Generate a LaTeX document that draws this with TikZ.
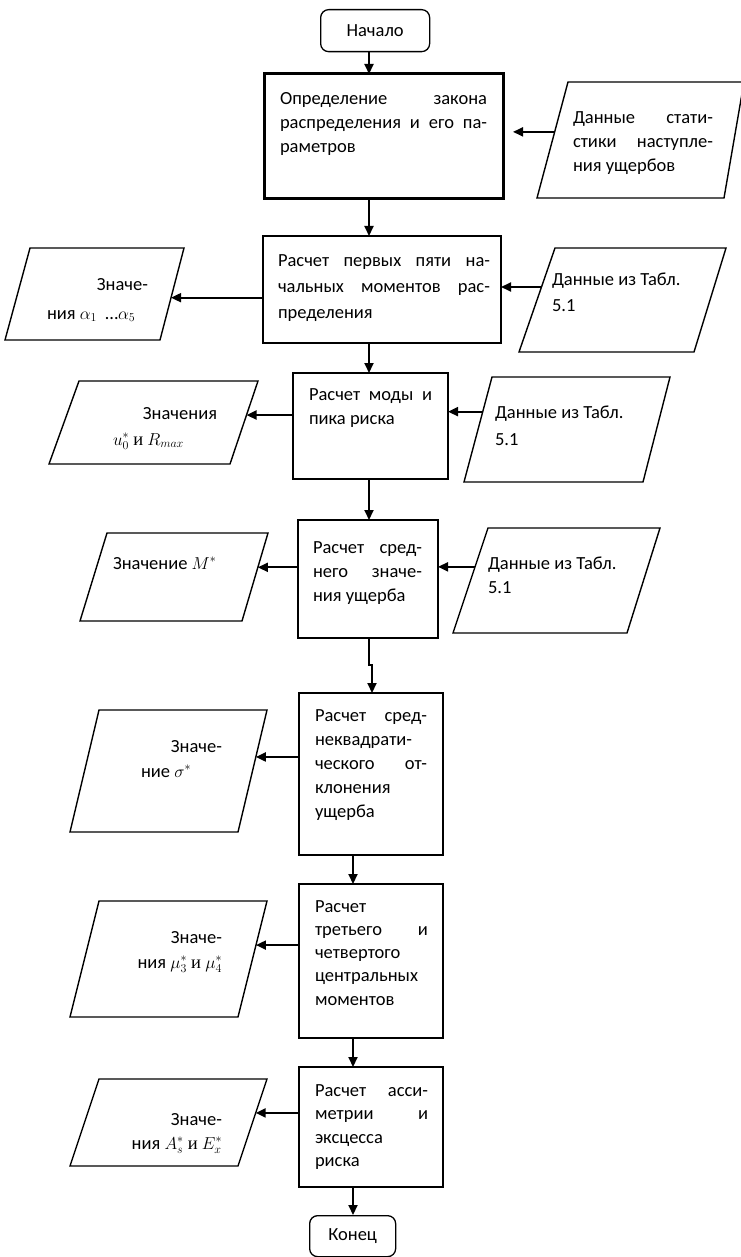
\documentclass[tikz,border=0pt]{standalone}
\usepackage{fontspec}
\setmainfont{Carlito}
\newfontfamily\serifru{Liberation Serif}
\usetikzlibrary{arrows.meta,calc}
\newcommand\jline[1]{\hbox to\hsize{#1}}
\newcommand\lline[1]{\hbox to\hsize{#1\hfill}}
\newcommand\rline[1]{\hbox to\hsize{\hfill#1}}
\newcommand\tb[2]{\vtop{\hsize=#1pt\relax #2}}
\newcommand\rusi{{\serifru и}}
% data block: name, bottom-left x, bottom y, top-left x, top y, top-right x, bottom-right x
\newcommand\para[7]{%
  \coordinate (#1bl) at (#2,#3);
  \coordinate (#1tl) at (#4,#5);
  \coordinate (#1tr) at (#6,#5);
  \coordinate (#1br) at (#7,#3);
  \draw[parline] (#1bl) -- (#1tl) -- (#1tr) -- (#1br) -- cycle;}
\begin{document}
\begin{tikzpicture}[x=1pt,y=-1pt,
  box/.style={draw, rectangle, line width=2pt, anchor=north west, inner sep=0pt, outer sep=0pt},
  term/.style={draw, rectangle, rounded corners=8pt, line width=1.3pt, inner sep=0pt, anchor=north west, font=\fontsize{18.5}{24}\selectfont},
  parline/.style={line width=1.4pt, line join=miter},
  txt/.style={inner sep=0pt, outer sep=0pt, anchor=base west, font=\fontsize{18.5}{24}\selectfont},
  arr/.style={line width=2pt, -{Triangle[length=10pt,width=9pt]}},
]
\useasboundingbox (0,0) rectangle (740,1257);
\fill[white] (0,0) rectangle (740,1257);

\coordinate (ax1) at (369,0);
\coordinate (ax2) at (372,0);
\coordinate (ax3) at (353,0);

% terminals
\node[term, minimum width=109pt, minimum height=42pt] (start) at (320,9) {Начало\hspace{22pt}};
\node[term, minimum width=86pt, minimum height=41pt] (end) at (309,1215) {Конец};

% process boxes
\node[box, line width=3pt, minimum width=239pt, minimum height=125pt] (b1) at (264,74) {};
\node[box, line width=2.5pt, minimum width=238pt, minimum height=107pt] (b2) at (263,236) {};
\node[box, line width=2.5pt, minimum width=155pt, minimum height=106pt] (b3) at (293,373) {};
\node[box, minimum width=140pt, minimum height=118pt] (b4) at (298,520) {};
\node[box, minimum width=144pt, minimum height=162pt] (b5) at (299,693) {};
\node[box, minimum width=144pt, minimum height=154pt] (b6) at (299,884) {};
\node[box, minimum width=144pt, minimum height=120pt] (b7) at (299,1067) {};

\node[txt] (t1) at (280,105) {\tb{207}{\jline{Определение\hfill закона}\jline{распределения\hfill и\hfill его\hfill па-}\lline{раметров}}};
\node[txt, font=\fontsize{18.5}{26}\selectfont] (t2) at (278,266) {\tb{212}{\jline{Расчет\hfill первых\hfill пяти\hfill на-}\jline{чальных\hfill моментов\hfill рас-}\lline{пределения}}};
\node[txt] (t3) at (309,400) {\tb{123}{\jline{Расчет\hfill моды\hfill и}\lline{пика риска}}};
\node[txt] (t4) at (313,553) {\tb{109}{\jline{Расчет\hfill сред-}\jline{него\hfill значе-}\lline{ния ущерба}}};
\node[txt] (t5) at (315,721) {\tb{112}{\jline{Расчет\hfill сред-}\lline{неквадрати-}\jline{ческого\hfill от-}\lline{клонения}\lline{ущерба}}};
\node[txt, font=\fontsize{18.5}{23.3}\selectfont] (t6) at (315,912) {\tb{113}{\lline{Расчет}\jline{третьего\hfill и}\lline{четвертого}\lline{центральных}\lline{моментов}}};
\node[txt, font=\fontsize{18.5}{23.5}\selectfont] (t7) at (315,1096) {\tb{113}{\jline{Расчет\hfill асси-}\jline{метрии\hfill и}\lline{эксцесса}\lline{риска}}};

% data blocks
\para{P1}{537}{198}{568}{82}{744}{724}
\para{P2}{5}{340}{30}{248}{184}{160}
\para{P3}{519}{352}{555}{248}{726}{694}
\para{P4}{49}{464}{79}{381}{258}{230}
\para{P5}{464}{482}{492}{377}{670}{643}
\para{P6}{80}{621}{107}{533}{268}{242}
\para{P7}{453}{633}{488}{528}{660}{627}
\para{P8}{70}{832}{99}{710}{267}{238}
\para{P9}{70}{1017}{99}{901}{267}{238}
\para{P10}{70}{1166}{99}{1079}{267}{238}

\node[txt] (tp1) at (573,124) {\tb{140}{\jline{Данные\hfill стати-}\jline{стики\hfill наступле-}\lline{ния ущербов}}};
\node[txt, font=\fontsize{18.5}{29}\selectfont] (tp2) at (47,290) {\tb{101}{\rline{Значе-}\lline{ния $\alpha_1$\ \ …$\alpha_5$}}};
\node[txt, font=\fontsize{18.5}{26}\selectfont] (tp3) at (552,285) {\tb{130}{\lline{Данные из Табл.}\lline{5.1}}};
\node[txt, font=\fontsize{18.5}{26}\selectfont] (tp4) at (113,419) {\tb{104}{\rline{Значения}\lline{$u_0^*$ \rusi{} $R_{max}$}}};
\node[txt, font=\fontsize{18.5}{27}\selectfont] (tp5) at (495,418) {\tb{130}{\lline{Данные из Табл.}\lline{5.1}}};
\node[txt] (tp6) at (113,569) {Значение $M^*$};
\node[txt] (tp7) at (488,569) {\tb{130}{\lline{Данные из Табл.}\lline{5.1}}};
\node[txt, font=\fontsize{18.5}{25}\selectfont] (tp8) at (141,752) {\tb{81}{\rline{Значе-}\lline{ние $\sigma^*$}}};
\node[txt, anchor=base east, font=\fontsize{18.5}{25}\selectfont] (tp9) at (222,943) {\tb{110}{\rline{Значе-}\rline{ния $\mu_3^*$ \rusi{} $\mu_4^*$}}};
\node[txt, anchor=base east, font=\fontsize{18.5}{24}\selectfont] (tp10) at (222,1125) {\tb{110}{\rline{Значе-}\rline{ния $A_s^*$ \rusi{} $E_x^*$}}};

% main flow
\draw[arr] (start.south -| ax1) -- (b1.north -| ax1);
\draw[arr] (b1.south -| ax1) -- (b2.north -| ax1);
\draw[arr] (b2.south -| ax1) -- (b3.north -| ax1);
\draw[arr] (b3.south -| ax1) -- (b4.north -| ax1);
\draw[arr] (b4.south -| ax1) -- ++(0,27) -| (b5.north -| ax2);
\draw[arr] (b5.south -| ax3) -- (b6.north -| ax3);
\draw[arr] (b6.south -| ax3) -- (b7.north -| ax3);
\draw[arr] (b7.south -| ax3) -- (end.north -| ax3);

% side connectors
\coordinate (a1) at ($(P1tl)!0.43!(P1bl)$);
\draw[arr, shorten >=10pt] (a1) -- (a1 -| b1.east);
\coordinate (a2) at ($(P2tr)!0.54!(P2br)$);
\draw[arr] (a2 -| b2.west) -- (a2);
\coordinate (a3) at ($(P3tl)!0.375!(P3bl)$);
\draw[arr] (a3) -- (a3 -| b2.east);
\coordinate (a4) at ($(P4tr)!0.41!(P4br)$);
\draw[arr] (a4 -| b3.west) -- (a4);
\coordinate (a5) at ($(P5tl)!0.33!(P5bl)$);
\draw[arr] (a5) -- (a5 -| b3.east);
\coordinate (a6) at ($(P6tr)!0.39!(P6br)$);
\draw[arr] (a6 -| b4.west) -- (a6);
\coordinate (a7) at ($(P7tl)!0.37!(P7bl)$);
\draw[arr] (a7) -- (a7 -| b4.east);
\coordinate (a8) at ($(P8tr)!0.385!(P8br)$);
\draw[arr] (a8 -| b5.west) -- (a8);
\coordinate (a9) at ($(P9tr)!0.38!(P9br)$);
\draw[arr] (a9 -| b6.west) -- (a9);
\coordinate (a10) at ($(P10tr)!0.39!(P10br)$);
\draw[arr] (a10 -| b7.west) -- (a10);
\end{tikzpicture}
\end{document}
